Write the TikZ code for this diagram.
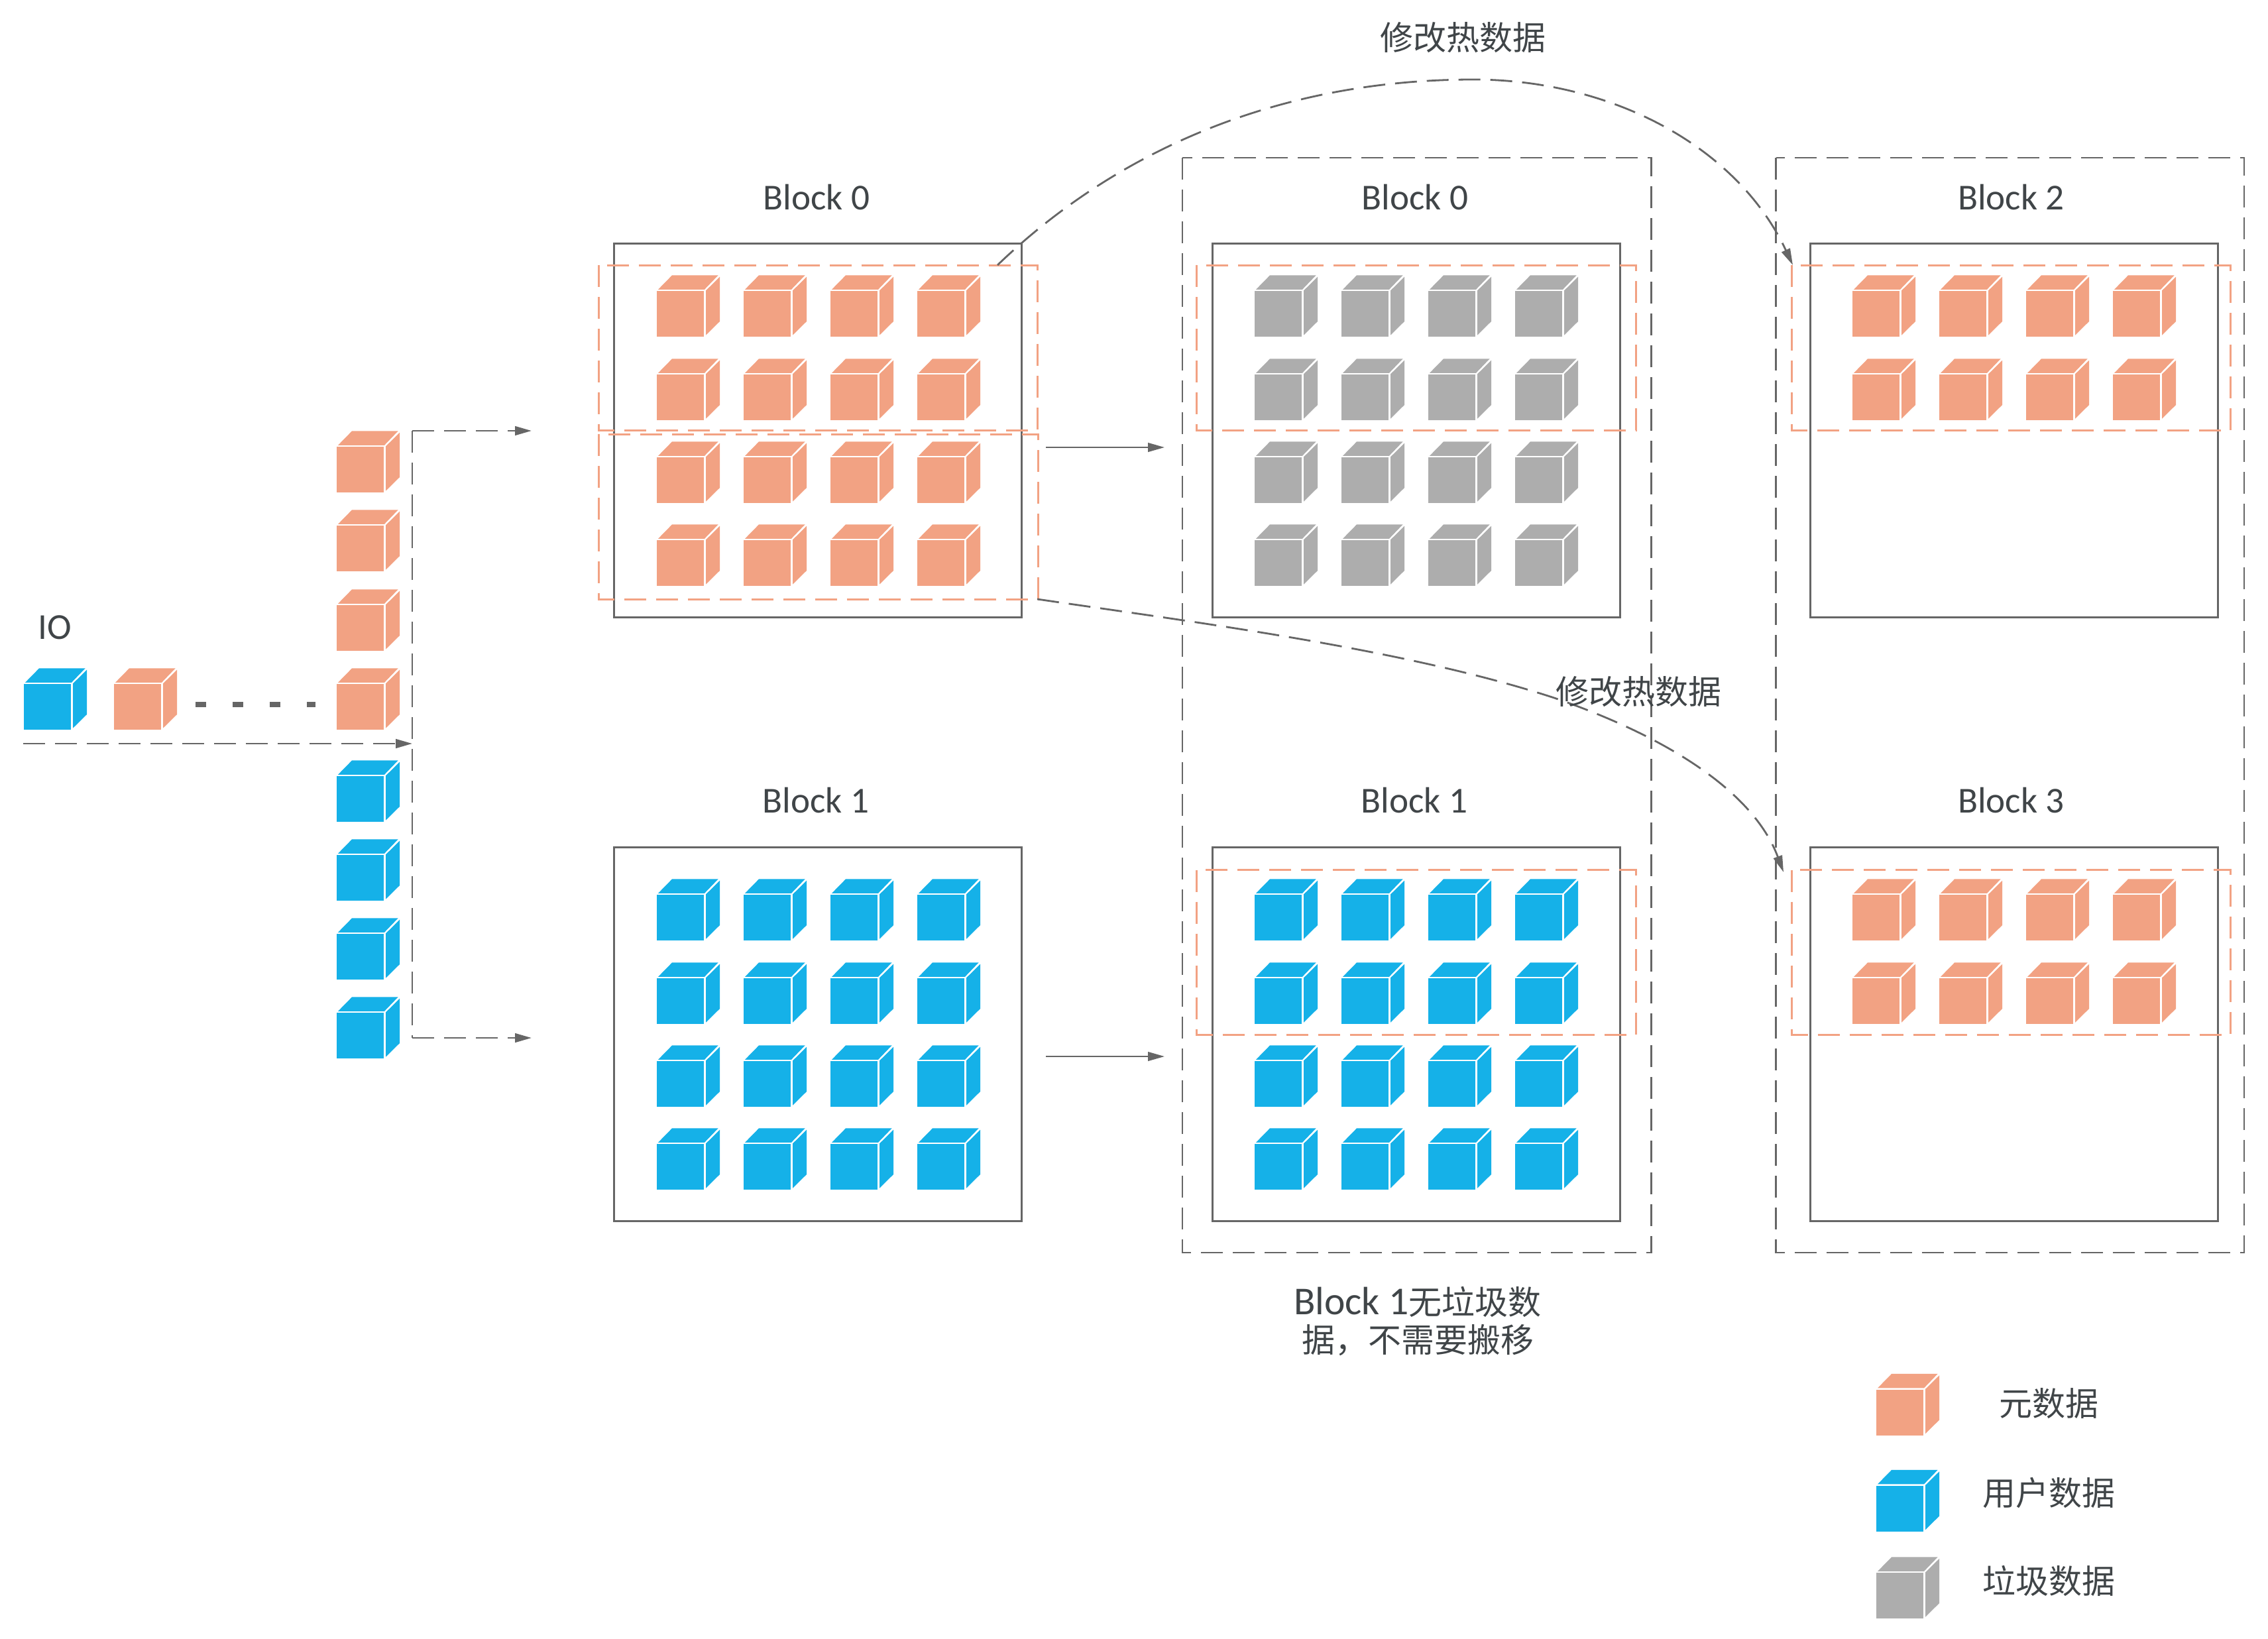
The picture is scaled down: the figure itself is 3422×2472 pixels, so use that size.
\documentclass[tikz,border=0pt]{standalone}
\usepackage{fontspec}
\setmainfont{Carlito}
\newfontfamily\cjk{Noto Sans CJK SC}
\usetikzlibrary{arrows.meta}
\definecolor{cubeorange}{HTML}{F2A283}
\definecolor{cubeblue}{HTML}{15B1E8}
\definecolor{cubegray}{HTML}{ADADAD}
\definecolor{linegray}{HTML}{666666}
\definecolor{labeltext}{HTML}{404548}
\tikzset{
  blockbox/.style={draw=linegray,line width=.75pt,minimum width=153.75pt,minimum height=141pt,inner sep=0pt,anchor=north west},
  outerbox/.style={draw=linegray,line width=.7pt,dash pattern=on 8.25pt off 3.75pt},
  hotbox/.style={draw=cubeorange,line width=.75pt,dash pattern=on 8.25pt off 3.75pt},
  flow/.style={draw=linegray,line width=.7pt,dash pattern=on 8.25pt off 3.75pt,-{Triangle[length=6.25pt,width=3.4pt]}},
  plain/.style={draw=linegray,line width=.6pt,-{Triangle[length=6.25pt,width=3.4pt]}},
  lab/.style={text=labeltext,font=\fontsize{13.8}{15}\selectfont,inner sep=0pt},
  clab/.style={text=labeltext,font=\fontsize{12.5}{14.25}\selectfont\cjk,inner sep=0pt,align=center},
}
\newcommand\cubeat[3]{%
  \begin{scope}[shift={(#1,#2)}]
    \fill[#3] (0,0) rectangle (71,-69);
    \fill[#3] (2,-71.2) -- (23,-92.6) -- (92.6,-92.6) -- (72,-71.2) -- cycle;
    \fill[#3] (74,-69.6) -- (95,-90.3) -- (95,-23) -- (74,-2.3) -- cycle;
  \end{scope}}
% grid of cubes: x offset, y offset, colour, list of row bottoms
\newcommand\cubegrid[4]{%
  \foreach \gx in {991,1122,1253,1384}{%
    \foreach \gy in {#4}{%
      \pgfmathsetmacro\hx{\gx+#1}\pgfmathsetmacro\hy{\gy+#2}%
      \cubeat{\hx}{\hy}{#3}}}}
\begin{document}
\begin{tikzpicture}[x=.25pt,y=-.25pt]
\useasboundingbox (0,0) rectangle (3422,2472);
% outer dashed frames
\draw[outerbox] (1784,238) rectangle (2491.5,1890);
\draw[outerbox] (2679.5,238) rectangle (3386,1890);
% blocks
\node[blockbox] (b00) at (925,366) {};
\node[blockbox] (b10) at (925,1276.5) {};
\node[blockbox] (b01) at (1827.5,366) {};
\node[blockbox] (b11) at (1827.5,1276.5) {};
\node[blockbox] (b02) at (2729.5,366) {};
\node[blockbox] (b12) at (2729.5,1276.5) {};
% hot regions
\draw[hotbox] (903,400) rectangle (1565,649);
\draw[hotbox] (903,655) rectangle (1566,904);
\draw[hotbox] (1805,400) rectangle (2468,649);
\draw[hotbox] (1805,1312.5) rectangle (2468,1561);
\draw[hotbox] (2703,400) rectangle (3365.5,649);
\draw[hotbox] (2703,1312.5) rectangle (3365.5,1561);
% cubes in blocks
\cubegrid{0}{0}{cubeorange}{508,634,759,884}
\cubegrid{0}{911}{cubeblue}{508,634,759,884}
\cubegrid{902}{0}{cubegray}{508,634,759,884}
\cubegrid{902}{911}{cubeblue}{508,634,759,884}
\cubegrid{1804}{0}{cubeorange}{508,634}
\cubegrid{1804}{911}{cubeorange}{508,634}
% IO queue
\cubeat{36}{1101}{cubeblue}
\cubeat{172}{1101}{cubeorange}
\foreach \y in {743,862,982,1101}{\cubeat{508}{\y}{cubeorange}}
\foreach \y in {1240,1359,1478,1597}{\cubeat{508}{\y}{cubeblue}}
% legend cubes
\cubeat{2831}{2165.5}{cubeorange}
\cubeat{2831}{2310.5}{cubeblue}
\cubeat{2831}{2442}{cubegray}
% coordinates for connector ends
\coordinate (ioStart) at (35,1122);
\coordinate (ioJoin) at (622,1122);
\coordinate (upTurn) at (622,650);
\coordinate (upEnd) at (802,650);
\coordinate (downTurn) at (622,1566);
\coordinate (downEnd) at (802,1566);
\coordinate (dotsL) at (295,1063);
\coordinate (dotsR) at (476,1063);
\coordinate (mv0a) at (1578,675);
\coordinate (mv0b) at (1757,675);
\coordinate (mv1a) at (1578,1594);
\coordinate (mv1b) at (1757,1594);
\coordinate (hotAstart) at (1505,400);
\coordinate (hotApeak) at (2223,120);
\coordinate (hotAend) at (2705,400);
\coordinate (hotBstart) at (1565,904);
\coordinate (hotBmid) at (2345,1053);
\coordinate (hotBend) at (2691,1316);
% connectors
\draw[flow] (ioStart) -- (ioJoin);
\draw[flow] (upTurn) -- (upEnd);
\draw[flow] (downTurn) -- (downEnd);
\draw[outerbox] (upTurn) -- (downTurn);
\draw[linegray,line width=2pt,dash pattern=on 4.1pt off 9.9pt] (dotsL) -- (dotsR);
\draw[plain] (mv0a) -- (mv0b);
\draw[plain] (mv1a) -- (mv1b);
\draw[flow] (hotAstart) .. controls (1682,230) and (1925,120) .. (hotApeak)
  .. controls (2429,120) and (2620,219) .. (hotAend);
\draw[flow] (hotBstart) .. controls (1796,938) and (2116,978) .. (hotBmid)
  .. controls (2505,1108) and (2644,1190) .. (hotBend);
% labels
\node[lab] (t00) at (1232,298) {Block 0};
\node[lab] (t10) at (1231,1208) {Block 1};
\node[lab] (t01) at (2135,298) {Block 0};
\node[lab] (t11) at (2134,1208) {Block 1};
\node[lab] (t02) at (3034.5,298) {Block 2};
\node[lab] (t12) at (3034.5,1208) {Block 3};
\node[lab] (tio) at (83,947) {IO};
\node[clab] (th1) at (2207,57) {修改热数据};
\node[clab] (th2) at (2472.5,1044) {修改热数据};
\node[clab] (tno) at (2139,1993) {{\fontsize{14.9}{14.25}\selectfont\rmfamily Block 1}无垃圾数\\据，不需要搬移};
\node[clab] (lg1) at (3091.5,2117.5) {元数据};
\node[clab] (lg2) at (3091.5,2252) {用户数据};
\node[clab] (lg3) at (3091.5,2385) {垃圾数据};
\end{tikzpicture}
\end{document}
